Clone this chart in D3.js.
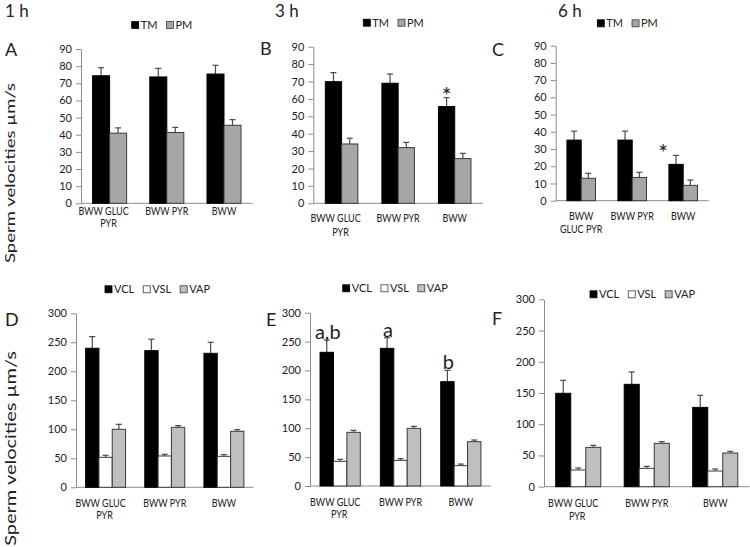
<!DOCTYPE html>
<html><head><meta charset="utf-8">
<script src="https://cdn.jsdelivr.net/npm/d3@7"></script>
<style>
body{margin:0;background:#fff;}
svg text{font-family:Lato,"Open Sans",sans-serif;fill:#222;}
</style></head><body>
<svg id="chart" width="750" height="547"></svg>
<script>
// ---------- data ----------
const categories = ["BWW GLUC PYR", "BWW PYR", "BWW"];
const catLines = [["BWW GLUC", "PYR"], ["BWW PYR"], ["BWW"]];
const catLinesC = [["BWW", "GLUC PYR"], ["BWW PYR"], ["BWW"]];
const motSeries = ["TM", "PM"];
const velSeries = ["VCL", "VSL", "VAP"];
const motTicks = [0, 10, 20, 30, 40, 50, 60, 70, 80, 90];
const velTicks = [0, 50, 100, 150, 200, 250, 300];
const timeLabels = ["1 h", "3 h", "6 h"];
const panelLetters = ["A", "B", "C", "D", "E", "F"];
const yTitle = "Sperm velocities µm/s";

// A: 1 h motility
const tm1h = [74.4, 73.7, 75.4];
const tm1hErr = [4.7, 5.0, 5.1];
const pm1h = [40.9, 41.3, 45.5];
const pm1hErr = [3.1, 3.0, 3.3];
// B: 3 h motility
const tm3h = [69.9, 69.0, 55.6];
const tm3hErr = [5.2, 5.3, 5.1];
const pm3h = [34.1, 32.0, 25.7];
const pm3hErr = [3.3, 3.0, 3.0];
// C: 6 h motility
const tm6h = [35.2, 35.2, 21.1];
const tm6hErr = [5.2, 5.2, 5.2];
const pm6h = [13.0, 13.5, 8.9];
const pm6hErr = [2.9, 3.0, 3.1];
// D: 1 h velocities
const vcl1h = [239.7, 235.6, 231.0];
const vcl1hErr = [20.1, 19.6, 19.0];
const vsl1h = [51.7, 54.0, 53.4];
const vsl1hErr = [3.5, 2.9, 2.9];
const vap1h = [100.0, 103.4, 96.6];
const vap1hErr = [8.6, 2.9, 2.8];
// E: 3 h velocities
const vcl3h = [231.4, 238.3, 180.6];
const vcl3hErr = [21.3, 18.5, 19.6];
const vsl3h = [42.7, 44.4, 35.2];
const vsl3hErr = [3.5, 2.9, 2.8];
const vap3h = [92.9, 99.8, 76.7];
const vap3hErr = [3.5, 3.5, 2.9];
// F: 6 h velocities
const vcl6h = [149.5, 163.9, 127.0];
const vcl6hErr = [20.8, 19.8, 19.3];
const vsl6h = [26.7, 29.4, 25.1];
const vsl6hErr = [3.2, 3.2, 3.2];
const vap6h = [63.0, 69.4, 53.9];
const vap6hErr = [3.2, 2.7, 2.7];

// significance marks: [series index, category index, label]
const marksB = [[0, 2, "*"]];
const marksC = [[0, 2, "*"]];
const marksE = [[0, 0, "a,b"], [0, 1, "a"], [0, 2, "b"]];

// ---------- styles ----------
const motFill = ["#000000", "#a6a6a6"];
const motStroke = ["#000000", "#3a3a3a"];
const velFill = ["#000000", "#ffffff", "#bfbfbf"];
const velStroke = ["#000000", "#3a3a3a", "#3a3a3a"];
const axisColor = "#8c8c8c";
const errColor = "#4a4a4a";

const svg = d3.select("#chart");

function drawPanel(p) {
  const g = svg.append("g");
  const x0 = d3.scaleBand().domain(categories).range([p.left, p.right])
    .paddingInner(p.pad).paddingOuter(p.pad / 2);
  const x1 = d3.scaleBand().domain(p.series).range([0, x0.bandwidth()]);
  const y = d3.scaleLinear().domain([0, p.max]).range([p.bottom, p.top]);

  const ax = g.append("g").attr("transform", `translate(${p.left},0)`)
    .call(d3.axisLeft(y).tickValues(p.ticks).tickSize(5).tickSizeOuter(0).tickPadding(4));
  ax.select(".domain").attr("stroke", axisColor);
  ax.selectAll(".tick line").attr("stroke", axisColor);
  ax.selectAll(".tick text").style("font-size", "11px").style("font-family", "Lato").attr("fill", "#222");

  const xa = g.append("g").attr("transform", `translate(0,${p.bottom})`)
    .call(d3.axisBottom(x0).tickSize(0).tickSizeOuter(0).tickFormat(""));
  xa.select(".domain").attr("stroke", axisColor).attr("d", `M${p.left},0H${p.right}`);

  // category labels (slightly condensed, as in the reference)
  categories.forEach((c, i) => {
    p.lines[i].forEach((ln, j) => {
      const cx = x0(c) + x0.bandwidth() / 2 + (p.lineDx[i] ? p.lineDx[i][j] : 0);
      const cy = p.bottom + p.labelOff + j * p.lineH;
      g.append("text")
        .attr("transform", `translate(${cx},${cy}) scale(0.86,1)`)
        .attr("text-anchor", "middle").style("font-size", "10.5px").text(ln);
    });
  });

  // bars and error bars
  p.series.forEach((s, si) => {
    const vals = p.values[si], errs = p.errors[si];
    categories.forEach((c, ci) => {
      const bx = x0(c) + x1(s), bw = x1.bandwidth();
      const cx = bx + bw / 2;
      const top = y(vals[ci] + errs[ci]);
      g.append("line").attr("x1", cx).attr("x2", cx)
        .attr("y1", y(vals[ci])).attr("y2", top).attr("stroke", errColor).attr("stroke-width", 1.2);
      g.append("line").attr("x1", cx - 3).attr("x2", cx + 3)
        .attr("y1", top).attr("y2", top).attr("stroke", errColor).attr("stroke-width", 1.2);
      g.append("rect").attr("x", bx).attr("y", y(vals[ci]))
        .attr("width", bw).attr("height", y(0) - y(vals[ci]))
        .attr("fill", p.fills[si]).attr("stroke", p.strokes[si]).attr("stroke-width", 1);
    });
  });

  // significance marks
  (p.marks || []).forEach(([si, ci, lab]) => {
    const s = p.series[si], c = categories[ci];
    const cx = x0(c) + x1(s) + x1.bandwidth() / 2;
    const top = y(p.values[si][ci] + p.errors[si][ci]);
    const isStar = lab === "*";
    g.append("text").attr("x", cx + (isStar ? p.starDx : 1)).attr("y", top + (isStar ? 6 : -1))
      .attr("text-anchor", "middle").style("font-size", isStar ? "23px" : "20px").attr("fill", "#111").text(lab);
  });

  // legend
  let lx = p.legendX;
  p.series.forEach((s, si) => {
    g.append("rect").attr("x", lx).attr("y", p.legendY - 3.5).attr("width", 7).attr("height", 7)
      .attr("fill", p.fills[si]).attr("stroke", p.strokes[si]).attr("stroke-width", 0.8);
    const t = g.append("text").attr("x", lx + 9).attr("y", p.legendY + 4)
      .style("font-size", "11px").text(s);
    lx += 9 + t.node().getComputedTextLength() + 9;
  });

  // panel letter
  g.append("text").attr("x", p.letterX).attr("y", p.letterY).style("font-size", "18px").text(p.letter);
}

const panels = [
  {letter: panelLetters[0], letterX: 5, letterY: 56, series: motSeries, values: [tm1h, pm1h], errors: [tm1hErr, pm1hErr],
   left: 81, right: 252.6, top: 49, bottom: 203.3, pad: 0.405, max: 90, ticks: motTicks,
   fills: motFill, strokes: motStroke, legendX: 131.7, legendY: 25, lines: catLines, labelOff: 12, lineH: 11.7, lineDx: [[-6, -1]]},
  {letter: panelLetters[1], letterX: 260, letterY: 55, series: motSeries, values: [tm3h, pm3h], errors: [tm3hErr, pm3hErr],
   left: 313.3, right: 483, top: 46.7, bottom: 203.3, pad: 0.425, max: 90, ticks: motTicks, marks: marksB, starDx: 0,
   fills: motFill, strokes: motStroke, legendX: 363.3, legendY: 22.7, lines: catLines, labelOff: 18.4, lineH: 14.3, lineDx: [[-6, -1]]},
  {letter: panelLetters[2], letterX: 492, letterY: 56, series: motSeries, values: [tm6h, pm6h], errors: [tm6hErr, pm6hErr],
   left: 555.7, right: 708.7, top: 45.7, bottom: 200.7, pad: 0.44, max: 90, ticks: motTicks, marks: marksC, starDx: -13,
   fills: motFill, strokes: motStroke, legendX: 597.3, legendY: 23.3, lines: catLinesC, labelOff: 19.3, lineH: 13.3, lineDx: []},
  {letter: panelLetters[3], letterX: 5, letterY: 326, series: velSeries, values: [vcl1h, vsl1h, vap1h], errors: [vcl1hErr, vsl1hErr, vap1hErr],
   left: 76, right: 253.5, top: 313.3, bottom: 487.3, pad: 0.325, max: 300, ticks: velTicks,
   fills: velFill, strokes: velStroke, legendX: 105, legendY: 289.3, lines: catLines, labelOff: 19.7, lineH: 12, lineDx: [[-5, -1]]},
  {letter: panelLetters[4], letterX: 266, letterY: 326, series: velSeries, values: [vcl3h, vsl3h, vap3h], errors: [vcl3hErr, vsl3hErr, vap3hErr],
   left: 310, right: 491, top: 312.7, bottom: 486, pad: 0.333, max: 300, ticks: velTicks, marks: marksE,
   fills: velFill, strokes: velStroke, legendX: 342.7, legendY: 288.3, lines: catLines, labelOff: 20, lineH: 12.3, lineDx: [[-5, -1]]},
  {letter: panelLetters[5], letterX: 492, letterY: 325, series: velSeries, values: [vcl6h, vsl6h, vap6h], errors: [vcl6hErr, vsl6hErr, vap6hErr],
   left: 544, right: 749.5, top: 299.3, bottom: 486.7, pad: 0.342, max: 300, ticks: velTicks,
   fills: velFill, strokes: velStroke, legendX: 590, legendY: 294.3, lines: catLines, labelOff: 20, lineH: 13.3, lineDx: [[-5, -1]]}
];
panels.forEach(drawPanel);

// time labels
[[5, 17], [275, 17], [558, 17]].forEach(([x, yy], i) => {
  svg.append("text").attr("x", x).attr("y", yy).style("font-size", "17px").text(timeLabels[i]);
});

// y titles
[[15, 173, 18.5], [16, 448.5, 20]].forEach(([bx, cy, fs]) => {
  svg.append("text").attr("transform", `translate(${bx},${cy}) scale(0.74,1) rotate(-90)`)
    .attr("text-anchor", "middle").style("font-size", fs + "px").text(yTitle);
});
</script>
</body></html>
